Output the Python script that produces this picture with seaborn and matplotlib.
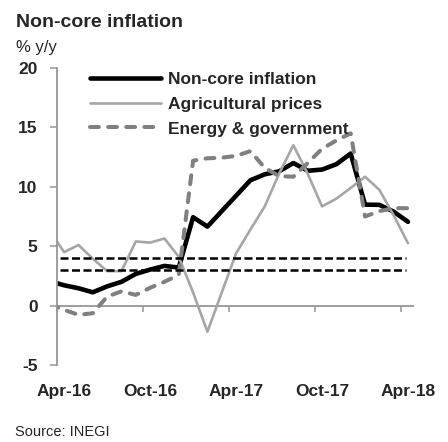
import numpy as np
import pandas as pd
import matplotlib
matplotlib.use("Agg")
import matplotlib.pyplot as plt
import seaborn as sns

# monthly data, Mar-16 .. Apr-18 (first point sits left of the axis and is clipped)
months = pd.period_range("2016-03", "2018-04", freq="M")
noncore = [2.05, 1.71, 1.46, 1.12, 1.62, 2.0, 2.67, 3.03, 3.34, 3.2, 7.44, 6.65, 7.95,
           9.25, 10.55, 11.05, 11.3, 12.0, 11.35, 11.45, 11.9, 12.8, 8.5, 8.48, 7.91, 7.05]
agri = [6.28, 4.5, 5.1, 3.95, 2.9, 2.9, 5.4, 5.3, 5.65, 4.1, 1.1, -2.2, 1.1,
        4.4, 6.4, 8.35, 11.1, 13.5, 11.1, 8.35, 9.0, 9.9, 10.85, 9.75, 7.6, 5.25]
energy = [0.08, -0.36, -0.78, -0.64, 0.76, 1.2, 0.9, 1.5, 2.0, 2.6, 12.2, 12.4, 12.45,
          12.6, 13.0, 11.6, 10.9, 10.85, 12.0, 13.2, 13.9, 14.5, 7.5, 7.95, 8.2, 8.2]
target_lines = [3, 4]
tick_labels = ["Apr-16", "Oct-16", "Apr-17", "Oct-17", "Apr-18"]

# x in months since Apr-16, points plotted mid-month
start = pd.Period("2016-04", freq="M")
x = np.array([(m - start).n for m in months]) + 0.5
df = pd.DataFrame({"x": x, "noncore": noncore, "agri": agri, "energy": energy})

sns.set_theme(style="white")
plt.rcParams["font.family"] = ["Liberation Sans", "DejaVu Sans"]
plt.rcParams["axes.unicode_minus"] = False

fig = plt.figure(figsize=(4.48, 4.42), dpi=100)
ax = fig.add_axes([57 / 448, 77 / 442, 356 / 448, 297 / 442])

axis_grey = "#969696"

sns.lineplot(data=df, x="x", y="noncore", ax=ax, color="black", linewidth=3.3,
             label="Non-core inflation", solid_joinstyle="round", solid_capstyle="round")
sns.lineplot(data=df, x="x", y="agri", ax=ax, color="#A6A6A6", linewidth=1.9,
             label="Agricultural prices", solid_joinstyle="round")
sns.lineplot(data=df, x="x", y="energy", ax=ax, color="#808080", linewidth=2.9,
             linestyle=(0, (2.2, 2.3)), dash_capstyle="round", dash_joinstyle="round",
             label="Energy & government")

for v in target_lines:
    ax.hlines(v, 0.2, 24.35, color="black", linewidth=1.8, linestyles=(0, (3.2, 1.4)))

ax.set_xlim(0, 24.85)
ax.set_ylim(-5, 20)
ax.set_yticks([-5, 0, 5, 10, 15, 20])
ax.set_xlabel("")
ax.set_ylabel("")

# tick labels along the bottom, tick marks on the zero line
ax.set_xticks([0.5, 6.5, 12.5, 18.5, 24.5])
ax.set_xticklabels(tick_labels, fontweight="bold", fontsize=12.5)
ax.tick_params(axis="x", length=0, pad=14)
ax.tick_params(axis="y", direction="out", length=5, width=1.1, color=axis_grey,
               labelsize=12.5, pad=9, left=True)
for lbl in ax.get_yticklabels():
    lbl.set_fontweight("bold")

for s in ["top", "right", "bottom"]:
    ax.spines[s].set_visible(False)
ax.spines["left"].set_color(axis_grey)
ax.spines["left"].set_linewidth(1.3)

sec = ax.secondary_xaxis(5 / 25)
sec.set_xticks([0, 6, 12, 18, 24])
sec.set_xticklabels([])
sec.tick_params(direction="out", length=4, width=1.1, color=axis_grey)
sec.spines["bottom"].set_color(axis_grey)
sec.spines["bottom"].set_linewidth(1.3)

ax.legend(loc="upper left", bbox_to_anchor=(90 / 448, 1 - 72 / 442),
          bbox_transform=fig.transFigure, frameon=False, handlelength=4.1,
          handletextpad=0.4, labelspacing=0.55, borderpad=0, borderaxespad=0,
          prop={"weight": "bold", "size": 12.5})

fig.text(16 / 448, 1 - 27 / 442, "Non-core inflation", fontsize=14,
         fontweight="bold", va="baseline")
fig.text(16 / 448, 1 - 52 / 442, "% y/y", fontsize=12, va="baseline")
fig.text(15 / 448, 1 - 436 / 442, "Source: INEGI", fontsize=10.5, va="baseline")

fig.savefig("out.png", dpi=100)
